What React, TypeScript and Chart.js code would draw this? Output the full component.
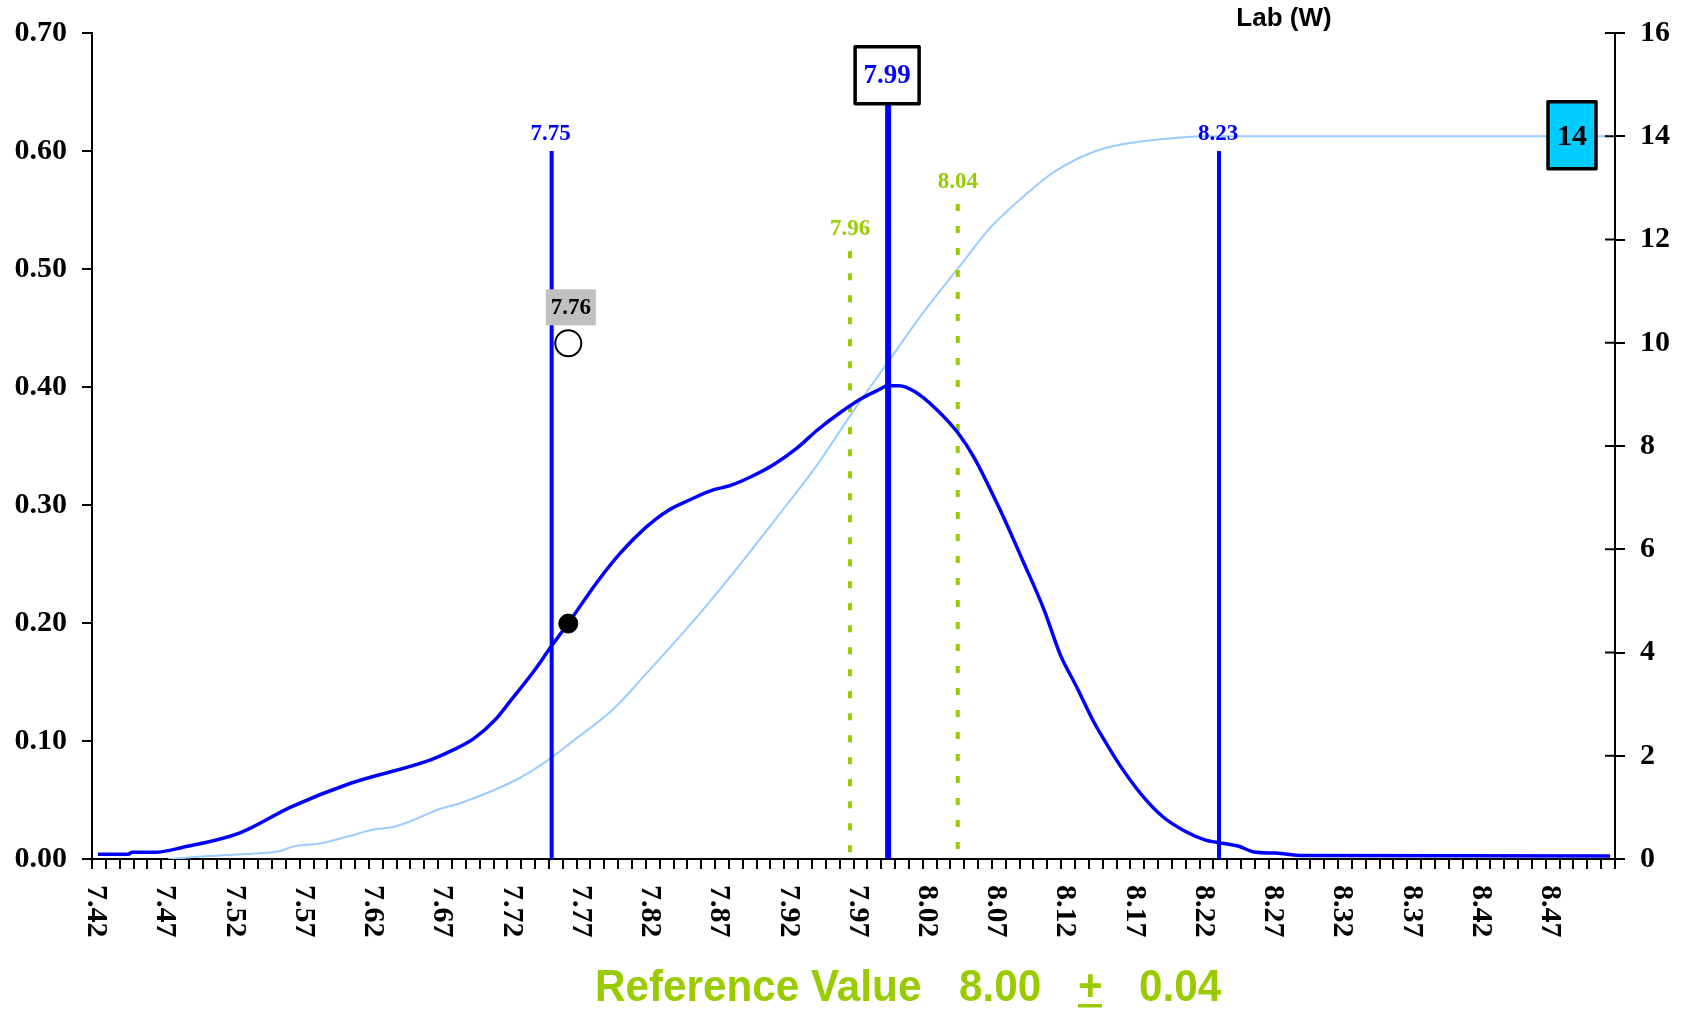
import React, { useEffect, useRef } from "react";
import { Chart, registerables } from "chart.js";

Chart.register(...registerables);

// ---- data ----
const pdfX = [7.4243, 7.446, 7.449, 7.4655, 7.4857, 7.5269, 7.5635, 7.6063, 7.6646, 7.6801, 7.6957, 7.7112, 7.7229, 7.7384, 7.7516, 7.7641, 7.785, 7.8006, 7.82, 7.8356, 7.8511, 7.8667, 7.8822, 7.8978, 7.9133, 7.9289, 7.9444, 7.96, 7.9755, 7.9872, 7.995, 8.0028, 8.0144, 8.03, 8.0455, 8.0572, 8.0766, 8.0922, 8.1077, 8.1194, 8.1311, 8.1427, 8.1505, 8.1621, 8.1777, 8.1932, 8.2088, 8.2243, 8.2329, 8.2477, 8.2593, 8.2749, 8.2943, 8.5165];
const pdfY = [0.004, 0.004, 0.0057, 0.0057, 0.0099, 0.0222, 0.044, 0.064, 0.084, 0.092, 0.102, 0.118, 0.135, 0.158, 0.18, 0.2, 0.235, 0.258, 0.281, 0.295, 0.304, 0.312, 0.317, 0.325, 0.335, 0.348, 0.364, 0.378, 0.39, 0.397, 0.401, 0.401, 0.396, 0.381, 0.361, 0.34, 0.294, 0.253, 0.211, 0.173, 0.146, 0.118, 0.102, 0.08, 0.055, 0.036, 0.024, 0.016, 0.014, 0.011, 0.006, 0.005, 0.003, 0.0025];

const cumX = [7.4751, 7.5052, 7.5269, 7.5558, 7.5652, 7.5847, 7.604, 7.6232, 7.6374, 7.6519, 7.669, 7.6858, 7.7268, 7.7502, 7.7657, 7.7968, 7.82, 7.8511, 7.8822, 7.9133, 7.9444, 7.9677, 7.995, 8.0222, 8.0455, 8.0688, 8.0922, 8.1155, 8.1466, 8.1777, 8.2088, 8.2243, 8.515];
const cumY = [0, 0.06, 0.09, 0.155, 0.24, 0.3, 0.43, 0.57, 0.62, 0.75, 0.95, 1.08, 1.54, 1.93, 2.25, 2.91, 3.58, 4.51, 5.51, 6.57, 7.66, 8.59, 9.63, 10.65, 11.44, 12.23, 12.82, 13.32, 13.73, 13.9, 13.98, 14.0, 14.0];

const xTickLabels = ["7.42", "7.47", "7.52", "7.57", "7.62", "7.67", "7.72", "7.77", "7.82", "7.87", "7.92", "7.97", "8.02", "8.07", "8.12", "8.17", "8.22", "8.27", "8.32", "8.37", "8.42", "8.47"];

const limitX = [7.752, 8.234];
const limitLabels = ["7.75", "8.23"];
const limitTop = 0.6;

const meanX = 7.995;
const meanLabel = "7.99";
const meanTop = 0.64;

const refX = [7.9675, 8.0453];
const refLabels = ["7.96", "8.04"];
const refTops = [0.515, 0.555];

const sampleX = 7.764;
const sampleY = 0.1995;
const sampleMarkerY = 0.437;
const sampleLabel = "7.76";

const countValue = 14;
const countLabel = "14";

const titleText = "Lab (W)";
const footerParts = ["Reference Value", "8.00", "+", "0.04"];

// ---- styles ----
const BLUE = "#0000FF";
const LIGHT = "#99CCFF";
const GREEN = "#99CC00";
const SERIF = "'Liberation Serif', 'Times New Roman', serif";
const SANS = "'Liberation Sans', Arial, sans-serif";

const overlayPlugin = {
  id: "overlay",
  afterDatasetsDraw(chart: any) {
    const ctx = chart.ctx as CanvasRenderingContext2D;
    const xs = chart.scales.x;
    const ys = chart.scales.y;
    const y1 = chart.scales.y1;
    const area = chart.chartArea;
    ctx.save();

    // limit labels
    ctx.font = `bold 23px ${SERIF}`;
    ctx.textAlign = "center";
    ctx.textBaseline = "alphabetic";
    ctx.fillStyle = BLUE;
    limitX.forEach((v, i) => {
      ctx.fillText(limitLabels[i], xs.getPixelForValue(v) - 1, ys.getPixelForValue(limitTop) - 11);
    });

    // reference labels
    ctx.fillStyle = GREEN;
    refX.forEach((v, i) => {
      ctx.fillText(refLabels[i], xs.getPixelForValue(v), ys.getPixelForValue(refTops[i]) - 16);
    });

    // mean box
    const mx = xs.getPixelForValue(meanX);
    const mTop = ys.getPixelForValue(meanTop);
    const bw = 64, bh = 57;
    ctx.fillStyle = "#FFFFFF";
    ctx.fillRect(mx - bw / 2 - 1, mTop - bh, bw, bh);
    ctx.strokeStyle = "#000";
    ctx.lineWidth = 3.5;
    ctx.lineJoin = "round";
    ctx.strokeRect(mx - bw / 2 - 1, mTop - bh, bw, bh);
    ctx.fillStyle = BLUE;
    ctx.font = `bold 27px ${SERIF}`;
    ctx.textBaseline = "middle";
    ctx.fillText(meanLabel, mx - 1, mTop - bh / 2 + 1);

    // sample label (gray box)
    const sx = xs.getPixelForValue(sampleX);
    const sy = ys.getPixelForValue(sampleMarkerY);
    const gw = 50, gh = 36;
    ctx.fillStyle = "#C0C0C0";
    ctx.fillRect(sx + 2.5 - gw / 2, sy - 18 - gh, gw, gh);
    ctx.fillStyle = "#000";
    ctx.font = `bold 23px ${SERIF}`;
    ctx.fillText(sampleLabel, sx + 2.5, sy - 18 - gh / 2 + 1);

    // count box
    const cy = y1.getPixelForValue(countValue) - 1;
    const cx = area.right - 43;
    const cw = 48, ch = 67;
    ctx.fillStyle = "#00CCFF";
    ctx.fillRect(cx - cw / 2, cy - ch / 2, cw, ch);
    ctx.strokeStyle = "#000";
    ctx.lineWidth = 3.5;
    ctx.strokeRect(cx - cw / 2, cy - ch / 2, cw, ch);
    ctx.fillStyle = "#000";
    ctx.font = `bold 30px ${SERIF}`;
    ctx.fillText(countLabel, cx, cy + 2);

    ctx.restore();
  },
  afterDraw(chart: any) {
    const ctx = chart.ctx as CanvasRenderingContext2D;
    const xs = chart.scales.x;
    const y1 = chart.scales.y1;
    const area = chart.chartArea;
    ctx.save();

    // inner ticks on right axis
    ctx.strokeStyle = "#000";
    ctx.lineWidth = 2;
    y1.ticks.forEach((t: any) => {
      const py = y1.getPixelForValue(t.value);
      ctx.beginPath();
      ctx.moveTo(area.right - 10, py);
      ctx.lineTo(area.right, py);
      ctx.stroke();
    });

    // x labels, rotated clockwise
    ctx.fillStyle = "#000";
    ctx.font = `bold 30px ${SERIF}`;
    ctx.textAlign = "left";
    ctx.textBaseline = "middle";
    xTickLabels.forEach((lbl) => {
      const px = xs.getPixelForValue(parseFloat(lbl)) + 4;
      ctx.save();
      ctx.translate(px, area.bottom + 26);
      ctx.rotate(Math.PI / 2);
      ctx.fillText(lbl, 0, 0);
      ctx.restore();
    });

    // title
    ctx.font = `bold 26px ${SANS}`;
    ctx.textAlign = "center";
    ctx.fillText(titleText, 1284, 19);

    // footer
    ctx.fillStyle = GREEN;
    ctx.font = `bold 44px ${SANS}`;
    ctx.textAlign = "left";
    ctx.textBaseline = "alphabetic";
    const fx = [595, 959, 1078, 1139];
    footerParts.forEach((p, i) => {
      ctx.save();
      ctx.translate(fx[i], 1001);
      ctx.scale(0.96, 1);
      ctx.fillText(p, 0, 0);
      ctx.restore();
    });
    ctx.fillRect(1078, 1004, 24, 3.5);

    ctx.restore();
  },
};

export default function App() {
  const ref = useRef<HTMLCanvasElement | null>(null);

  useEffect(() => {
    document.body.style.margin = "0";
    if (!ref.current) return;
    const tickFont = { family: SERIF, size: 30, weight: "bold" as const };
    const gridOpts = { drawOnChartArea: false, drawTicks: true, tickLength: 10, color: "#000", lineWidth: 2 };
    const borderOpts = { color: "#000", width: 2 };

    const vline = (x: number, top: number, color: string, width: number, dash: number[], order: number) => ({
      type: "line" as const,
      data: [{ x, y: top }, { x, y: 0 }],
      borderColor: color,
      borderWidth: width,
      borderDash: dash,
      pointRadius: 0,
      tension: 0,
      yAxisID: "y",
      order,
    });

    const chart = new Chart(ref.current, {
      type: "line",
      data: {
        datasets: [
          {
            data: [{ x: sampleX, y: sampleMarkerY }],
            showLine: false,
            pointRadius: 13,
            pointBackgroundColor: "#FFFFFF",
            pointBorderColor: "#000",
            pointBorderWidth: 2,
            yAxisID: "y",
            order: 0,
          },
          {
            data: [{ x: sampleX, y: sampleY }],
            showLine: false,
            pointRadius: 9.5,
            pointBackgroundColor: "#000",
            pointBorderColor: "#000",
            pointBorderWidth: 1,
            yAxisID: "y",
            order: 1,
          },
          vline(meanX, meanTop, BLUE, 6, [], 2),
          {
            data: pdfX.map((x, i) => ({ x, y: pdfY[i] })),
            borderColor: BLUE,
            borderWidth: 3.5,
            pointRadius: 0,
            cubicInterpolationMode: "monotone",
            yAxisID: "y",
            order: 3,
          },
          ...limitX.map((x) => vline(x, limitTop, BLUE, 4, [], 4)),
          ...refX.map((x, i) => vline(x, refTops[i], GREEN, 4, [7, 15], 5)),
          {
            data: cumX.map((x, i) => ({ x, y: cumY[i] })),
            borderColor: LIGHT,
            borderWidth: 2,
            pointRadius: 0,
            cubicInterpolationMode: "monotone",
            yAxisID: "y1",
            order: 6,
          },
        ] as any,
      },
      options: {
        responsive: false,
        animation: false,
        layout: { padding: { top: 31, left: 0, right: 0, bottom: 0 } },
        plugins: {
          legend: { display: false },
          tooltip: { enabled: false },
          title: { display: false },
        },
        scales: {
          x: {
            type: "linear",
            min: 7.42,
            max: 8.52,
            ticks: { display: false, stepSize: 0.01 },
            grid: gridOpts,
            border: borderOpts,
            afterFit: (s: any) => {
              s.height = 152;
            },
          },
          y: {
            type: "linear",
            position: "left",
            min: 0,
            max: 0.7,
            ticks: {
              stepSize: 0.1,
              callback: (v: any) => Number(v).toFixed(2),
              font: tickFont,
              color: "#000",
              padding: 15,
            },
            grid: gridOpts,
            border: borderOpts,
            afterFit: (s: any) => {
              s.width = 92;
            },
          },
          y1: {
            type: "linear",
            position: "right",
            min: 0,
            max: 16,
            ticks: { stepSize: 2, font: tickFont, color: "#000", padding: 15 },
            grid: gridOpts,
            border: borderOpts,
            afterFit: (s: any) => {
              s.width = 73;
            },
          },
        },
      } as any,
      plugins: [overlayPlugin],
    });
    return () => chart.destroy();
  }, []);

  return (
    <div style={{ position: "fixed", left: 0, top: 0, width: 1688, height: 1011, background: "#fff" }}>
      <canvas ref={ref} width={1688} height={1011} style={{ display: "block" }} />
    </div>
  );
}
